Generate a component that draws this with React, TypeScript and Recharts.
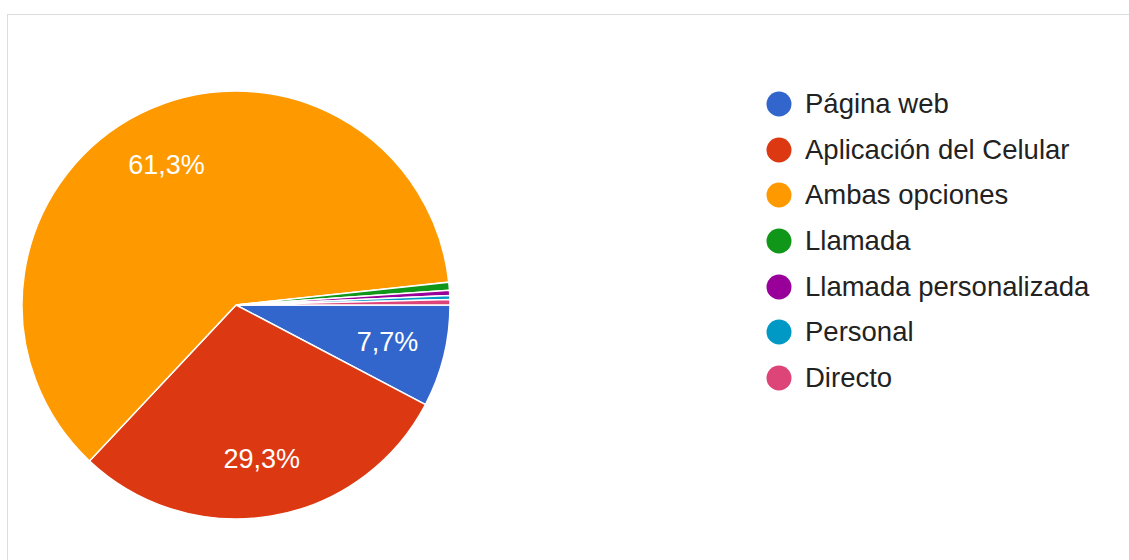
import React from 'react';
import { PieChart, Pie, Cell, Legend } from 'recharts';

const categories = [
  'Página web',
  'Aplicación del Celular',
  'Ambas opciones',
  'Llamada',
  'Llamada personalizada',
  'Personal',
  'Directo',
];
const shares = [7.7, 29.3, 61.3, 0.6, 0.4, 0.3, 0.4];
const colors = ['#3366cc', '#dc3912', '#ff9900', '#109618', '#990099', '#0099c6', '#dd4477'];

const data = categories.map((name, i) => ({ name, value: shares[i] }));

const RAD = Math.PI / 180;
const FONT = '"Liberation Sans", Arial, sans-serif';

const renderLabel = (props: any) => {
  const { cx, cy, midAngle, percent, value } = props;
  if (percent < 0.05) return null;
  const r = 156;
  const x = cx + r * Math.cos(-midAngle * RAD);
  const y = cy + r * Math.sin(-midAngle * RAD);
  return (
    <text
      x={x}
      y={y}
      fill="#ffffff"
      fontSize={27}
      fontFamily={FONT}
      textAnchor="middle"
      dominantBaseline="central"
    >
      {`${value.toFixed(1).replace('.', ',')}%`}
    </text>
  );
};

const renderLegend = () => (
  <div>
    {data.map((d, i) => (
      <div
        key={d.name}
        style={{ display: 'flex', alignItems: 'center', height: 45.7, fontFamily: FONT, fontSize: 27.5, color: '#222' }}
      >
        <svg width={28} height={28} style={{ marginRight: 12 }}>
          <circle cx={14} cy={14} r={12.5} fill={colors[i]} />
        </svg>
        <span>{d.name}</span>
      </div>
    ))}
  </div>
);

const App: React.FC = () => {
  return (
    <div style={{ position: 'absolute', left: 0, top: 0, width: 1129, height: 560, background: '#fff', overflow: 'hidden' }}>
      <div
        style={{
          position: 'absolute',
          left: 7,
          top: 14,
          width: 1200,
          height: 600,
          borderTop: '1px solid #dadce0',
          borderLeft: '1px solid #dadce0',
        }}
      />
      <PieChart
        width={1129}
        height={560}
        margin={{ top: 0, right: 0, bottom: 0, left: 0 }}
        style={{ position: 'absolute', left: 0, top: 0 }}
      >
        <Pie
          data={data}
          dataKey="value"
          nameKey="name"
          cx={236}
          cy={305}
          outerRadius={214}
          startAngle={0}
          endAngle={-360}
          stroke="#ffffff"
          strokeWidth={1.5}
          labelLine={false}
          label={renderLabel}
          isAnimationActive={false}
        >
          {data.map((entry, index) => (
            <Cell key={`cell-${index}`} fill={colors[index]} />
          ))}
        </Pie>
        <Legend
          layout="vertical"
          content={renderLegend}
          wrapperStyle={{ position: 'absolute', left: 765, top: 81, width: 360 }}
        />
      </PieChart>
    </div>
  );
};

export default App;
